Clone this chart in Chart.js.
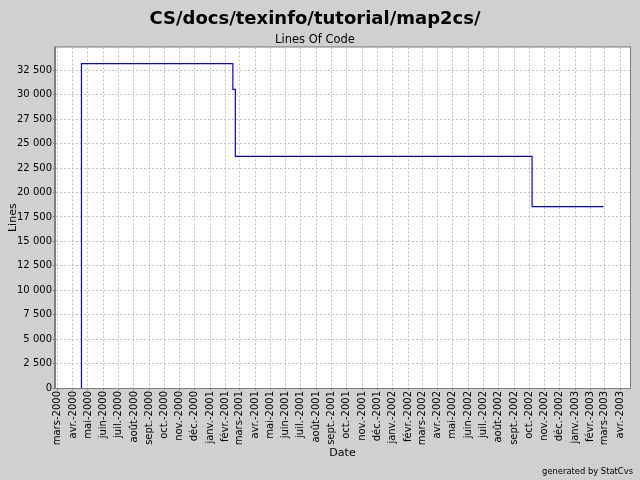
<!DOCTYPE html>
<html lang="fr">
<head>
<meta charset="UTF-8">
<title>Lines Of Code</title>
<script src="https://cdn.jsdelivr.net/npm/chart.js"></script>
<style>
  html, body { margin: 0; padding: 0; background: #d0d0d0; }
</style>
</head>
<body>
<canvas id="locChart" width="640" height="480"></canvas>
<script>
// step points (date of change, lines of code after it)
const changeDates = ['2000-04-18', '2000-04-18', '2001-02-15', '2001-02-20', '2002-10-07', '2003-02-27'];
const locValues = [0, 33200, 30550, 23700, 18550, 18550];

// axis ranges and ticks
const xMinDate = '2000-02-25';
const xMaxDate = '2003-04-21';
const firstTickYear = 2000;
const firstTickMonth = 3; // mars
const xTickLabels = [
  'mars-2000', 'avr.-2000', 'mai-2000', 'juin-2000', 'juil.-2000', 'août-2000', 'sept.-2000', 'oct.-2000', 'nov.-2000', 'déc.-2000',
  'janv.-2001', 'févr.-2001', 'mars-2001', 'avr.-2001', 'mai-2001', 'juin-2001', 'juil.-2001', 'août-2001', 'sept.-2001', 'oct.-2001', 'nov.-2001', 'déc.-2001',
  'janv.-2002', 'févr.-2002', 'mars-2002', 'avr.-2002', 'mai-2002', 'juin-2002', 'juil.-2002', 'août-2002', 'sept.-2002', 'oct.-2002', 'nov.-2002', 'déc.-2002',
  'janv.-2003', 'févr.-2003', 'mars-2003', 'avr.-2003'
];
const yTicks = [0, 2500, 5000, 7500, 10000, 12500, 15000, 17500, 20000, 22500, 25000, 27500, 30000, 32500];
const yMax = 34850;

const FONT = "'DejaVu Sans', sans-serif";
const NARROW = "'DejaVu Sans Condensed', 'DejaVu Sans', sans-serif";
const gridColor = '#c0c0c0';

const points = changeDates.map((d, i) => ({ x: Date.parse(d), y: locValues[i] }));
const tickTimes = xTickLabels.map((_, i) => Date.UTC(firstTickYear, firstTickMonth - 1 + i, 1));

function spaced(v) {
  return String(v).replace(/\B(?=(\d{3})+(?!\d))/g, ' ');
}

const frame = {
  id: 'frame',
  beforeDraw(chart) {
    const { ctx, chartArea: a } = chart;
    ctx.save();
    ctx.fillStyle = '#d0d0d0';
    ctx.fillRect(0, 0, chart.width, chart.height);
    ctx.fillStyle = '#ffffff';
    ctx.fillRect(a.left, a.top, a.right - a.left, a.bottom - a.top);
    ctx.restore();
  },
  afterDraw(chart) {
    const { ctx, chartArea: a } = chart;
    ctx.save();
    ctx.strokeStyle = '#808080';
    ctx.lineWidth = 1;
    ctx.strokeRect(a.left - 0.5, a.top - 0.5, a.right - a.left + 1, a.bottom - a.top + 1);
    ctx.fillStyle = '#000000';
    ctx.font = '9.3px ' + NARROW;
    ctx.textAlign = 'right';
    ctx.textBaseline = 'middle';
    ctx.fillText('generated by StatCvs', 633, 472);
    ctx.restore();
  }
};

new Chart(document.getElementById('locChart'), {
  type: 'line',
  data: {
    datasets: [{
      label: 'Lines Of Code',
      data: points,
      stepped: true,
      borderColor: '#0000ff',
      borderWidth: 1.2,
      pointRadius: 0,
      fill: false
    }]
  },
  options: {
    responsive: false,
    devicePixelRatio: 1,
    animation: false,
    layout: { padding: { left: 0, right: 10, top: 0, bottom: 20 } },
    plugins: {
      legend: { display: false },
      tooltip: { enabled: false },
      title: {
        display: true,
        text: 'CS/docs/texinfo/tutorial/map2cs/',
        color: '#000000',
        font: { family: FONT, size: 18, weight: 'bold', lineHeight: 1.2 },
        padding: { top: 9, bottom: 2 }
      },
      subtitle: {
        display: true,
        text: 'Lines Of Code',
        color: '#000000',
        font: { family: FONT, size: 11.5, lineHeight: 1.2 },
        padding: { top: 1, bottom: 0 }
      }
    },
    scales: {
      x: {
        type: 'linear',
        min: Date.parse(xMinDate),
        max: Date.parse(xMaxDate),
        afterBuildTicks(scale) {
          scale.ticks = tickTimes.map(v => ({ value: v }));
        },
        afterFit(scale) { scale.height = 72; },
        ticks: {
          autoSkip: false,
          minRotation: 90,
          maxRotation: 90,
          padding: 1,
          color: '#000000',
          font: { family: FONT, size: 10 },
          callback(value, index) { return xTickLabels[index]; }
        },
        grid: { color: gridColor, tickLength: 2, tickColor: '#808080' },
        border: { display: true, color: '#808080', dash: [2, 2] },
        title: {
          display: true,
          text: 'Date',
          color: '#000000',
          font: { family: FONT, size: 11 },
          padding: { top: 0, bottom: 0 }
        }
      },
      y: {
        min: 0,
        max: yMax,
        afterBuildTicks(scale) {
          scale.ticks = yTicks.map(v => ({ value: v }));
        },
        afterFit(scale) { scale.width = 55; },
        ticks: {
          padding: 1,
          color: '#000000',
          font: { family: FONT, size: 10 },
          callback(value) { return spaced(value); }
        },
        grid: { color: gridColor, tickLength: 2, tickColor: '#808080' },
        border: { display: true, color: '#808080', dash: [2, 2] },
        title: {
          display: true,
          text: 'Lines',
          color: '#000000',
          font: { family: FONT, size: 11 },
          padding: { top: 7, bottom: 0 }
        }
      }
    }
  },
  plugins: [frame]
});
</script>
</body>
</html>
